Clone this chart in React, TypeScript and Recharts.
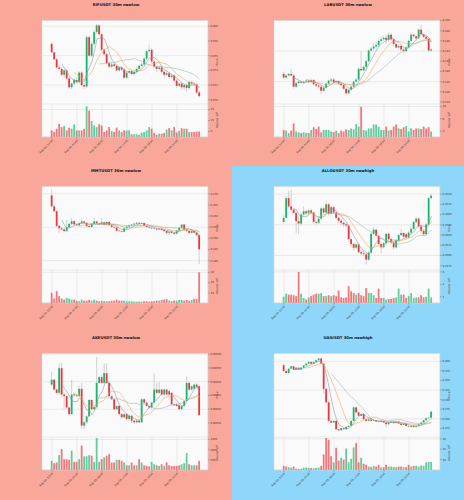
import { ComposedChart, Bar, Line, XAxis, YAxis, CartesianGrid } from 'recharts'

// [open, high, low, close]
type Candle = [number, number, number, number]

const TIME_LABELS = ['Aug 04, 22:00', 'Aug 05, 03:00', 'Aug 05, 08:00', 'Aug 05, 13:00', 'Aug 05, 18:00', 'Aug 05, 23:00']

const RIF_OHLC: Candle[] = [
  [0.0776, 0.0778, 0.0764, 0.07645], [0.07645, 0.0766, 0.0754, 0.0755], [0.0755, 0.0757, 0.0742, 0.0744], [0.0744, 0.0748, 0.074, 0.0742],
  [0.0742, 0.0745, 0.0732, 0.0734], [0.0734, 0.0742, 0.073, 0.074], [0.074, 0.0742, 0.0727, 0.0729], [0.0729, 0.0731, 0.0715, 0.0717],
  [0.0717, 0.0724, 0.0714, 0.0722], [0.0722, 0.0729, 0.072, 0.0727], [0.0727, 0.0731, 0.0722, 0.0724], [0.0724, 0.0739, 0.0722, 0.0737],
  [0.0737, 0.0739, 0.0718, 0.072], [0.072, 0.0723, 0.0715, 0.0718], [0.0718, 0.0787, 0.0716, 0.0785], [0.0785, 0.0787, 0.0758, 0.076],
  [0.076, 0.0778, 0.0758, 0.0776], [0.0776, 0.0795, 0.0774, 0.0792], [0.0792, 0.0803, 0.079, 0.0801], [0.0801, 0.0802, 0.0787, 0.0789],
  [0.0789, 0.0791, 0.0766, 0.0768], [0.0768, 0.077, 0.076, 0.0762], [0.0762, 0.0764, 0.0748, 0.075], [0.075, 0.0752, 0.0743, 0.0745],
  [0.0745, 0.0752, 0.0743, 0.0748], [0.0748, 0.075, 0.0744, 0.0746], [0.0746, 0.0748, 0.0738, 0.074], [0.074, 0.0746, 0.0738, 0.0744],
  [0.0744, 0.0746, 0.0739, 0.0741], [0.0741, 0.0743, 0.0728, 0.073], [0.073, 0.0739, 0.0728, 0.0737], [0.0737, 0.0741, 0.0735, 0.0739],
  [0.0739, 0.0741, 0.0733, 0.0735], [0.0735, 0.074, 0.0733, 0.0738], [0.0738, 0.0744, 0.0736, 0.0742], [0.0742, 0.0748, 0.074, 0.0746],
  [0.0746, 0.075, 0.0744, 0.0748], [0.0748, 0.0758, 0.0746, 0.0756], [0.0756, 0.0768, 0.0754, 0.0766], [0.0766, 0.0775, 0.0764, 0.0768],
  [0.0768, 0.077, 0.075, 0.0752], [0.0752, 0.0754, 0.0743, 0.0745], [0.0745, 0.0747, 0.0738, 0.0742], [0.0742, 0.0746, 0.074, 0.0744],
  [0.0744, 0.0746, 0.0736, 0.0738], [0.0738, 0.074, 0.073, 0.0734], [0.0734, 0.0738, 0.0732, 0.0736], [0.0736, 0.0738, 0.0729, 0.0731],
  [0.0731, 0.0735, 0.0729, 0.0733], [0.0733, 0.0735, 0.0724, 0.0726], [0.0726, 0.0728, 0.0716, 0.0719], [0.0719, 0.0724, 0.0717, 0.0722],
  [0.0722, 0.0724, 0.0714, 0.0717], [0.0717, 0.0722, 0.0713, 0.072], [0.072, 0.0722, 0.0711, 0.0716], [0.0716, 0.0726, 0.0714, 0.0724],
  [0.0724, 0.0726, 0.072, 0.0722], [0.0722, 0.0724, 0.0719, 0.0721], [0.0721, 0.0723, 0.0708, 0.071], [0.071, 0.0712, 0.0703, 0.0705],
]
const RIF_VOL = [
  6, 4.5, 7.5, 12, 9, 10, 6, 8.5, 7.5, 11.5, 6, 6, 6, 7.5, 28, 24, 14.5, 10.5, 9, 11.5,
  10.5, 4.5, 6, 9, 5.5, 4.5, 8.5, 6, 4.5, 6, 6, 6, 2.5, 2.5, 2.5, 2, 4, 4.5, 6, 9,
  7.5, 3.6, 2, 3, 3, 3.6, 6.7, 8, 6, 9, 4, 5.5, 8, 7.5, 7.5, 4.5, 4.5, 4.5, 5, 5,
]
const RIF_PRICE_TICKS = [0.07, 0.072, 0.074, 0.076, 0.078, 0.08]
const RIF_VOL_TICKS = [5, 10, 15, 20, 25]

const LAB_OHLC: Candle[] = [
  [0.1395, 0.1399, 0.1386, 0.1388], [0.1388, 0.1394, 0.1386, 0.1392], [0.1392, 0.1397, 0.139, 0.1395], [0.1395, 0.1405, 0.139, 0.1392],
  [0.1392, 0.1396, 0.1366, 0.137], [0.137, 0.138, 0.1368, 0.1377], [0.1377, 0.1382, 0.1375, 0.138], [0.138, 0.1382, 0.1376, 0.1378],
  [0.1378, 0.1382, 0.1376, 0.138], [0.138, 0.1385, 0.1378, 0.1382], [0.1382, 0.1385, 0.1377, 0.1379], [0.1379, 0.1386, 0.1377, 0.1383],
  [0.1383, 0.1385, 0.1373, 0.1375], [0.1375, 0.1377, 0.137, 0.1372], [0.1372, 0.1375, 0.1366, 0.137], [0.137, 0.1372, 0.1355, 0.1362],
  [0.1362, 0.137, 0.136, 0.1368], [0.1368, 0.1378, 0.1366, 0.1376], [0.1376, 0.1384, 0.1374, 0.1382], [0.1382, 0.1387, 0.138, 0.1384],
  [0.1384, 0.1386, 0.1377, 0.1379], [0.1379, 0.1383, 0.1377, 0.1381], [0.1381, 0.1383, 0.1374, 0.1376], [0.1376, 0.1378, 0.1371, 0.1373],
  [0.1373, 0.1375, 0.1364, 0.1366], [0.1366, 0.1368, 0.1355, 0.1357], [0.1357, 0.1366, 0.1355, 0.1364], [0.1364, 0.1372, 0.1362, 0.137],
  [0.137, 0.1382, 0.1368, 0.138], [0.138, 0.1387, 0.1378, 0.1384], [0.1384, 0.1408, 0.1382, 0.1405], [0.1405, 0.144, 0.14, 0.1402],
  [0.1402, 0.1412, 0.14, 0.1409], [0.1409, 0.1423, 0.1402, 0.142], [0.142, 0.1444, 0.1418, 0.1441], [0.1441, 0.1448, 0.1438, 0.1445],
  [0.1445, 0.1455, 0.144, 0.1449], [0.1449, 0.1458, 0.1445, 0.1452], [0.1452, 0.1463, 0.1448, 0.146], [0.146, 0.1468, 0.1456, 0.1463],
  [0.1463, 0.147, 0.146, 0.1466], [0.1466, 0.1472, 0.1455, 0.1462], [0.1462, 0.1476, 0.1458, 0.1472], [0.1472, 0.1475, 0.146, 0.1463],
  [0.1463, 0.1466, 0.145, 0.1454], [0.1454, 0.1457, 0.1445, 0.1447], [0.1447, 0.1453, 0.1443, 0.145], [0.145, 0.1452, 0.144, 0.1443],
  [0.1443, 0.1446, 0.1435, 0.144], [0.144, 0.145, 0.1438, 0.1447], [0.1447, 0.1462, 0.1445, 0.146], [0.146, 0.1475, 0.1458, 0.1472],
  [0.1472, 0.1475, 0.1466, 0.1469], [0.1469, 0.1471, 0.1462, 0.1465], [0.1465, 0.1484, 0.1463, 0.1482], [0.1482, 0.1492, 0.1471, 0.1473],
  [0.1473, 0.1476, 0.1466, 0.1468], [0.1468, 0.147, 0.1462, 0.1464], [0.1464, 0.1466, 0.1439, 0.1441], [0.1441, 0.1445, 0.1439, 0.1443],
]
const LAB_VOL = [
  2.3, 2.1, 1.3, 2.1, 4.4, 1.8, 1.5, 1.3, 1.5, 1.3, 1.3, 2.3, 3.2, 2.6, 3.4, 1.5, 2.3, 2.3, 2.3, 1.8,
  1.6, 2.1, 1.3, 2.1, 1.8, 2.5, 2.3, 2.8, 2.5, 4.2, 3.4, 9.9, 2.3, 2.1, 2.8, 2.8, 4.1, 4.1, 3.4, 2.3,
  2.3, 3.4, 2.1, 2.3, 3.4, 4.1, 2.8, 2.6, 3.2, 3.6, 1.8, 2.8, 2.3, 2.8, 2.8, 2.6, 3.4, 2.8, 3.2, 1.8,
]
const LAB_PRICE_TICKS = [0.134, 0.136, 0.138, 0.14, 0.142, 0.144, 0.146, 0.148, 0.15]
const LAB_VOL_TICKS = [2, 4, 6, 8, 10]

const MMT_OHLC: Candle[] = [
  [0.2693, 0.2718, 0.264, 0.2644], [0.2644, 0.2648, 0.2618, 0.2622], [0.2622, 0.2625, 0.255, 0.2556], [0.2556, 0.256, 0.2525, 0.2545],
  [0.2545, 0.2552, 0.2535, 0.254], [0.254, 0.2545, 0.2528, 0.2533], [0.2533, 0.2585, 0.253, 0.255], [0.255, 0.257, 0.2545, 0.2565],
  [0.2565, 0.2592, 0.256, 0.2577], [0.2577, 0.258, 0.256, 0.2563], [0.2563, 0.2566, 0.2555, 0.2559], [0.2559, 0.2572, 0.2556, 0.2568],
  [0.2568, 0.2592, 0.2565, 0.2576], [0.2576, 0.258, 0.2566, 0.257], [0.257, 0.2573, 0.2552, 0.2555], [0.2555, 0.2558, 0.2548, 0.2551],
  [0.2551, 0.2568, 0.2549, 0.2565], [0.2565, 0.2592, 0.2562, 0.2576], [0.2576, 0.2579, 0.2564, 0.2567], [0.2567, 0.257, 0.2559, 0.2562],
  [0.2562, 0.2592, 0.256, 0.2572], [0.2572, 0.2575, 0.2558, 0.2561], [0.2561, 0.2577, 0.2559, 0.2574], [0.2574, 0.2577, 0.2556, 0.2559],
  [0.2559, 0.2562, 0.2549, 0.2552], [0.2552, 0.2555, 0.2546, 0.2549], [0.2549, 0.2552, 0.2528, 0.2535], [0.2535, 0.254, 0.2528, 0.2533],
  [0.2533, 0.2536, 0.2525, 0.253], [0.253, 0.2548, 0.2527, 0.2545], [0.2545, 0.2557, 0.2542, 0.2553], [0.2553, 0.2562, 0.255, 0.2558],
  [0.2558, 0.2566, 0.2555, 0.2562], [0.2562, 0.257, 0.2559, 0.2566], [0.2566, 0.2574, 0.2563, 0.257], [0.257, 0.2573, 0.2562, 0.2566],
  [0.2566, 0.2572, 0.2563, 0.2569], [0.2569, 0.2572, 0.2553, 0.2556], [0.2556, 0.2559, 0.2548, 0.2551], [0.2551, 0.2554, 0.2545, 0.2548],
  [0.2548, 0.2551, 0.2542, 0.2545], [0.2545, 0.2548, 0.254, 0.2543], [0.2543, 0.2546, 0.2537, 0.254], [0.254, 0.2546, 0.2537, 0.2543],
  [0.2543, 0.2546, 0.2534, 0.2538], [0.2538, 0.2541, 0.253, 0.2533], [0.2533, 0.2536, 0.2518, 0.2525], [0.2525, 0.2534, 0.2515, 0.253],
  [0.253, 0.2533, 0.252, 0.2525], [0.2525, 0.2528, 0.2517, 0.2521], [0.2521, 0.2538, 0.2518, 0.2535], [0.2535, 0.2551, 0.2532, 0.2548],
  [0.2548, 0.2565, 0.2545, 0.2562], [0.2562, 0.2565, 0.2537, 0.254], [0.254, 0.2543, 0.253, 0.2533], [0.2533, 0.2536, 0.2522, 0.2525],
  [0.2525, 0.2536, 0.2522, 0.2533], [0.2533, 0.2536, 0.2522, 0.2526], [0.2526, 0.2529, 0.251, 0.2515], [0.2515, 0.2518, 0.2385, 0.2451],
]
const MMT_VOL = [
  10, 4.3, 11.7, 6.7, 4.3, 3.3, 5, 4.3, 3.3, 3.3, 2.3, 1.7, 3.3, 2.3, 2.3, 3, 2.3, 3.3, 2.3, 1.7,
  2.3, 1.7, 1.7, 1.7, 2.3, 2.3, 3.3, 2.3, 2.3, 2.3, 1.7, 1.7, 1.7, 1.3, 1.3, 1.3, 1.3, 1.7, 1.7, 1.3,
  1.7, 1.7, 2.3, 2.3, 3, 3.3, 4, 2.3, 1.7, 2.3, 2.3, 3, 3, 2.3, 3, 2.3, 3, 4, 4, 30,
]
const MMT_PRICE_TICKS = [0.24, 0.245, 0.25, 0.255, 0.26, 0.265, 0.27]
const MMT_VOL_TICKS = [10, 20, 30]

const ALLO_OHLC: Candle[] = [
  [0.2582, 0.26, 0.2578, 0.2592], [0.2592, 0.2645, 0.259, 0.264], [0.264, 0.2658, 0.2617, 0.262], [0.262, 0.266, 0.2608, 0.2612],
  [0.2612, 0.2616, 0.26, 0.2604], [0.2604, 0.2608, 0.2555, 0.2584], [0.2584, 0.2596, 0.2552, 0.2578], [0.2578, 0.2604, 0.2575, 0.26],
  [0.26, 0.262, 0.2596, 0.2608], [0.2608, 0.2612, 0.2598, 0.2603], [0.2603, 0.2614, 0.26, 0.261], [0.261, 0.2614, 0.2601, 0.2605],
  [0.2605, 0.2608, 0.2578, 0.2582], [0.2582, 0.2586, 0.2576, 0.258], [0.258, 0.2594, 0.2577, 0.259], [0.259, 0.2618, 0.2587, 0.2615],
  [0.2615, 0.2618, 0.2602, 0.2605], [0.2605, 0.2633, 0.2603, 0.2625], [0.2625, 0.2628, 0.2598, 0.2602], [0.2602, 0.2622, 0.26, 0.2618],
  [0.2618, 0.2621, 0.2601, 0.2605], [0.2605, 0.2608, 0.2588, 0.2592], [0.2592, 0.2595, 0.258, 0.2585], [0.2585, 0.2588, 0.2576, 0.258],
  [0.258, 0.2583, 0.257, 0.2576], [0.2576, 0.258, 0.2568, 0.2573], [0.2573, 0.2576, 0.2535, 0.254], [0.254, 0.2543, 0.252, 0.2528],
  [0.2528, 0.2531, 0.2512, 0.2519], [0.2519, 0.253, 0.2515, 0.2527], [0.2527, 0.253, 0.2505, 0.2508], [0.2508, 0.2515, 0.25, 0.2505],
  [0.2505, 0.2512, 0.2498, 0.2503], [0.2503, 0.2508, 0.2478, 0.249], [0.249, 0.251, 0.2487, 0.2507], [0.2507, 0.2556, 0.2504, 0.2553],
  [0.2553, 0.257, 0.255, 0.2563], [0.2563, 0.2566, 0.2544, 0.2548], [0.2548, 0.2551, 0.2524, 0.2528], [0.2528, 0.2531, 0.2505, 0.252],
  [0.252, 0.2533, 0.2517, 0.253], [0.253, 0.2556, 0.2527, 0.2553], [0.2553, 0.2556, 0.2536, 0.254], [0.254, 0.2543, 0.2528, 0.2532],
  [0.2532, 0.2535, 0.2515, 0.252], [0.252, 0.254, 0.2517, 0.2537], [0.2537, 0.2553, 0.2534, 0.255], [0.255, 0.2565, 0.2547, 0.2555],
  [0.2555, 0.2558, 0.2543, 0.2546], [0.2552, 0.2555, 0.254, 0.2544], [0.2544, 0.256, 0.2541, 0.2556], [0.2556, 0.2572, 0.2553, 0.2565],
  [0.2565, 0.2585, 0.2562, 0.2582], [0.2582, 0.2594, 0.2579, 0.259], [0.259, 0.2593, 0.2568, 0.2571], [0.2571, 0.2574, 0.2556, 0.256],
  [0.256, 0.2563, 0.2548, 0.2552], [0.2552, 0.258, 0.2549, 0.2576], [0.2576, 0.2643, 0.2573, 0.264], [0.264, 0.265, 0.2637, 0.2646],
]
const ALLO_VOL = [
  1.0, 1.5, 1.35, 1.35, 1.25, 1.1, 5.0, 1.5, 0.8, 0.55, 0.9, 1.1, 1.35, 1.5, 1.5, 1.6, 1.1, 1.1, 1.25, 1.1,
  1.25, 1.1, 2.0, 0.9, 0.8, 0.9, 2.7, 1.9, 1.6, 1.35, 1.6, 1.25, 1.1, 2.4, 1.6, 1.6, 1.25, 0.8, 2.3, 0.8,
  0.8, 0.55, 0.65, 0.65, 0.8, 0.9, 2.3, 1.35, 1.35, 0.8, 1.1, 1.6, 0.8, 0.9, 0.9, 1.25, 0.9, 1.0, 2.3, 0.9,
]
const ALLO_PRICE_TICKS = [0.2475, 0.25, 0.2525, 0.255, 0.2575, 0.26, 0.2625, 0.265]
const ALLO_VOL_TICKS = [1, 2, 3, 4, 5]

const AKE_OHLC: Candle[] = [
  [0.0005379, 0.0005474, 0.000537, 0.0005414], [0.0005414, 0.000542, 0.0005335, 0.0005343], [0.0005343, 0.000535, 0.000531, 0.0005319],
  [0.0005319, 0.0005533, 0.00053, 0.0005498], [0.0005498, 0.000554, 0.000529, 0.0005307], [0.0005307, 0.000532, 0.00052, 0.0005295],
  [0.0005295, 0.00053, 0.0005205, 0.0005212], [0.0005212, 0.000522, 0.0005155, 0.0005164], [0.0005164, 0.0005414, 0.000516, 0.0005307],
  [0.0005307, 0.000532, 0.000529, 0.00053], [0.00053, 0.000531, 0.0005285, 0.0005295], [0.0005295, 0.000537, 0.000529, 0.0005348],
  [0.0005348, 0.0005391, 0.0005057, 0.0005081], [0.0005081, 0.0005115, 0.0005057, 0.0005105], [0.0005105, 0.0005155, 0.0005095, 0.0005148],
  [0.0005148, 0.0005275, 0.000514, 0.0005267], [0.0005267, 0.0005272, 0.000519, 0.00052], [0.00052, 0.0005225, 0.0005195, 0.0005215],
  [0.0005215, 0.0005581, 0.0005205, 0.0005391], [0.0005391, 0.000544, 0.0005385, 0.0005433], [0.0005433, 0.000545, 0.0005385, 0.0005391],
  [0.0005391, 0.0005533, 0.0005385, 0.0005462], [0.0005462, 0.0005533, 0.0005385, 0.0005391], [0.0005391, 0.00054, 0.0005288, 0.0005295],
  [0.0005295, 0.00053, 0.0005265, 0.0005272], [0.0005272, 0.0005278, 0.0005195, 0.00052], [0.00052, 0.0005229, 0.0005195, 0.0005224],
  [0.0005224, 0.000523, 0.0005157, 0.0005164], [0.0005164, 0.000517, 0.0005135, 0.0005141], [0.0005141, 0.000517, 0.0005135, 0.0005164],
  [0.0005164, 0.000517, 0.000512, 0.0005129], [0.0005129, 0.000516, 0.0005117, 0.0005153], [0.0005153, 0.0005158, 0.00051, 0.0005117],
  [0.0005117, 0.0005122, 0.0005095, 0.0005105], [0.0005105, 0.0005122, 0.0005098, 0.0005117], [0.0005117, 0.0005122, 0.0005098, 0.0005105],
  [0.0005105, 0.0005278, 0.00051, 0.0005272], [0.0005272, 0.000528, 0.000524, 0.0005248], [0.0005248, 0.0005255, 0.0005218, 0.0005224],
  [0.0005224, 0.000523, 0.0005205, 0.0005212], [0.0005212, 0.0005255, 0.0005205, 0.0005248], [0.0005248, 0.000546, 0.000524, 0.0005343],
  [0.0005343, 0.000539, 0.0005312, 0.0005319], [0.0005319, 0.00054, 0.000531, 0.0005343], [0.0005343, 0.000535, 0.00053, 0.0005307],
  [0.0005307, 0.000535, 0.00053, 0.0005343], [0.0005343, 0.000535, 0.00053, 0.0005307], [0.0005331, 0.000534, 0.00053, 0.0005307],
  [0.0005319, 0.0005325, 0.000523, 0.0005236], [0.0005236, 0.000524, 0.0005222, 0.0005229], [0.0005236, 0.0005242, 0.0005218, 0.0005224],
  [0.0005229, 0.0005236, 0.0005195, 0.00052], [0.00052, 0.000523, 0.0005195, 0.0005224], [0.0005224, 0.0005266, 0.0005218, 0.000526],
  [0.000526, 0.0005438, 0.0005255, 0.0005391], [0.0005391, 0.00054, 0.0005335, 0.0005343], [0.0005343, 0.0005372, 0.0005338, 0.0005367],
  [0.000535, 0.0005385, 0.0005345, 0.0005379], [0.0005379, 0.000539, 0.000535, 0.000536], [0.0005367, 0.0005372, 0.000515, 0.0005157],
]
const AKE_VOL = [
  450, 330, 370, 730, 1030, 530, 530, 500, 950, 400, 400, 530, 1200, 670, 670, 730, 700, 400, 1570, 400,
  530, 620, 700, 780, 370, 370, 500, 500, 450, 370, 230, 230, 370, 230, 230, 530, 370, 230, 200, 170,
  400, 280, 230, 200, 280, 200, 370, 230, 200, 200, 200, 230, 280, 330, 830, 280, 230, 230, 230, 450,
]
const AKE_PRICE_TICKS = [0.00051, 0.00052, 0.00053, 0.00054, 0.00055, 0.00056]
const AKE_VOL_TICKS = [500, 1000, 1500]

const UAI_OHLC: Candle[] = [
  [0.3895, 0.3939, 0.373, 0.3746], [0.3746, 0.376, 0.368, 0.3693], [0.3693, 0.3815, 0.3685, 0.3807], [0.3807, 0.388, 0.38, 0.3868],
  [0.3868, 0.3875, 0.377, 0.3781], [0.3781, 0.384, 0.3775, 0.3833], [0.3833, 0.384, 0.377, 0.3781], [0.3781, 0.384, 0.3775, 0.3833],
  [0.3833, 0.39, 0.3825, 0.3895], [0.3895, 0.3945, 0.3885, 0.3939], [0.3939, 0.399, 0.393, 0.3982], [0.3982, 0.399, 0.393, 0.3939],
  [0.3939, 0.399, 0.3935, 0.3982], [0.3982, 0.4035, 0.3975, 0.4026], [0.4026, 0.408, 0.402, 0.407], [0.407, 0.4096, 0.393, 0.3939],
  [0.3939, 0.3945, 0.3149, 0.3281], [0.3281, 0.33, 0.29, 0.293], [0.293, 0.295, 0.242, 0.2447], [0.2447, 0.246, 0.239, 0.2404],
  [0.2404, 0.246, 0.2395, 0.2447], [0.2447, 0.2455, 0.221, 0.2228], [0.2228, 0.2255, 0.219, 0.2202], [0.2202, 0.2262, 0.2195, 0.2255],
  [0.2255, 0.2262, 0.222, 0.2228], [0.2228, 0.2298, 0.222, 0.229], [0.229, 0.2325, 0.228, 0.2316], [0.2316, 0.2455, 0.231, 0.2447],
  [0.2447, 0.281, 0.244, 0.2798], [0.2798, 0.281, 0.265, 0.2667], [0.2667, 0.269, 0.257, 0.2579], [0.2579, 0.264, 0.257, 0.2623],
  [0.2623, 0.263, 0.248, 0.2492], [0.2492, 0.25, 0.244, 0.2447], [0.2447, 0.2492, 0.244, 0.2482], [0.2482, 0.249, 0.244, 0.2447],
  [0.2447, 0.247, 0.244, 0.2465], [0.2465, 0.247, 0.242, 0.243], [0.243, 0.244, 0.241, 0.242], [0.242, 0.2452, 0.2415, 0.2447],
  [0.2447, 0.2455, 0.2395, 0.2404], [0.2404, 0.241, 0.2272, 0.236], [0.236, 0.241, 0.235, 0.2404], [0.2404, 0.244, 0.2398, 0.243],
  [0.243, 0.2436, 0.2385, 0.239], [0.239, 0.2436, 0.2385, 0.243], [0.243, 0.2436, 0.237, 0.2377], [0.2377, 0.2385, 0.2335, 0.2342],
  [0.2342, 0.2385, 0.2335, 0.2377], [0.2377, 0.2385, 0.2305, 0.2316], [0.2316, 0.2325, 0.229, 0.23], [0.229, 0.232, 0.2285, 0.2316],
  [0.2316, 0.232, 0.228, 0.229], [0.229, 0.232, 0.2285, 0.2316], [0.2316, 0.2365, 0.231, 0.236], [0.236, 0.241, 0.2355, 0.2404],
  [0.2404, 0.2475, 0.2395, 0.2465], [0.2465, 0.253, 0.2455, 0.2518], [0.2518, 0.254, 0.2505, 0.253], [0.253, 0.272, 0.252, 0.2685],
]
const UAI_VOL = [
  4, 3.3, 2.7, 2.3, 3.3, 1.3, 1.0, 1.3, 2.3, 2.3, 2.0, 2.0, 1.7, 2.0, 2.3, 4, 15, 30.7, 29, 13.3,
  7.3, 21.3, 9, 11.7, 10, 20.7, 7.3, 10.7, 21.7, 26, 7.3, 11.7, 6, 5, 3.3, 2.7, 4, 3.3, 5, 2.3,
  2.7, 5, 3.3, 3.3, 2.7, 2.7, 3.3, 3.3, 2.7, 2.7, 5, 3.3, 4, 4, 3.3, 4.3, 4, 7.3, 7.7, 7.7,
]
const UAI_PRICE_TICKS = [0.225, 0.25, 0.275, 0.3, 0.325, 0.35, 0.375, 0.4]
const UAI_VOL_TICKS = [10, 20, 30]

const PINK = '#f9a79a'
const BLUE = '#8fd6fb'
const FACE = '#fafafa'
const GRID = '#d9d9d9'
const UP = '#1ab56c'
const DOWN = '#ef363c'
const WICK = '#9c9c9c'
const MA_COLORS = ['#8a98aa', '#f4a85c', '#9bbab6']
const FONT = 'DejaVu Sans, sans-serif'

type PanelDef = {
  title: string
  bg: string
  left: number
  top: number
  ohlc: Candle[]
  vol: number[]
  priceTicks: number[]
  priceDomain: [number, number]
  digits: number
  volTicks: number[]
  volDomain: [number, number]
}

const PANELS: PanelDef[] = [
  { title: 'RIFUSDT 30m newlow', bg: PINK, left: 0, top: 0, ohlc: RIF_OHLC, vol: RIF_VOL, priceTicks: RIF_PRICE_TICKS, priceDomain: [0.06943, 0.08077], digits: 3, volTicks: RIF_VOL_TICKS, volDomain: [0, 30] },
  { title: 'LABUSDT 30m newlow', bg: PINK, left: 232, top: 0, ohlc: LAB_OHLC, vol: LAB_VOL, priceTicks: LAB_PRICE_TICKS, priceDomain: [0.1336, 0.15], digits: 3, volTicks: LAB_VOL_TICKS, volDomain: [0, 10.8] },
  { title: 'MMTUSDT 30m newlow', bg: PINK, left: 0, top: 166, ohlc: MMT_OHLC, vol: MMT_VOL, priceTicks: MMT_PRICE_TICKS, priceDomain: [0.2358, 0.2733], digits: 3, volTicks: MMT_VOL_TICKS, volDomain: [0, 32.3] },
  { title: 'ALLOUSDT 30m newhigh', bg: BLUE, left: 232, top: 166, ohlc: ALLO_OHLC, vol: ALLO_VOL, priceTicks: ALLO_PRICE_TICKS, priceDomain: [0.24646, 0.26685], digits: 4, volTicks: ALLO_VOL_TICKS, volDomain: [0, 5.3] },
  { title: 'AKEUSDT 30m newlow', bg: PINK, left: 0, top: 333, ohlc: AKE_OHLC, vol: AKE_VOL, priceTicks: AKE_PRICE_TICKS, priceDomain: [0.0004998, 0.0005605], digits: 5, volTicks: AKE_VOL_TICKS, volDomain: [0, 1617] },
  { title: 'UAIUSDT 30m newhigh', bg: BLUE, left: 232, top: 333, ohlc: UAI_OHLC, vol: UAI_VOL, priceTicks: UAI_PRICE_TICKS, priceDomain: [0.2027, 0.4202], digits: 3, volTicks: UAI_VOL_TICKS, volDomain: [0, 31.7] },
]

function sma(values: number[], n: number): (number | null)[] {
  return values.map((_, i) => {
    if (i < n - 1) return null
    let s = 0
    for (let k = i - n + 1; k <= i; k++) s += values[k]
    return s / n
  })
}

const CandleShape = (props: any) => {
  const { x, y, width, height, payload } = props
  if (x == null || y == null) return null
  const top0 = Math.min(y, y + height)
  const h = Math.abs(height)
  const span = payload.high - payload.low || 1
  const py = (v: number) => top0 + ((payload.high - v) / span) * h
  const bTop = py(Math.max(payload.open, payload.close))
  const bBot = py(Math.min(payload.open, payload.close))
  const cx = x + width / 2
  return (
    <g>
      <line x1={cx} x2={cx} y1={top0} y2={top0 + h} stroke={WICK} strokeWidth={0.45} />
      <rect x={x} y={bTop} width={width} height={Math.max(bBot - bTop, 0.4)} fill={payload.up ? UP : DOWN} />
    </g>
  )
}

const VolShape = (props: any) => {
  const { x, y, width, height, payload } = props
  if (x == null || y == null) return null
  return <rect x={x} y={Math.min(y, y + height)} width={width} height={Math.abs(height)} fill={payload.up ? UP : DOWN} fillOpacity={0.68} />
}

const tickStyle = { fontSize: 2.6, fill: '#333', fontFamily: FONT }
const XPAD = { left: 8.75, right: 7.25 }

function Panel({ p }: { p: PanelDef }) {
  const closes = p.ohlc.map((c) => c[3])
  const ma5 = sma(closes, 5)
  const ma10 = sma(closes, 10)
  const ma20 = sma(closes, 20)
  const data = p.ohlc.map(([o, h, l, c], i) => ({
    i,
    open: o,
    high: h,
    low: l,
    close: c,
    range: [l, h],
    up: c >= o,
    vol: p.vol[i],
    ma5: ma5[i],
    ma10: ma10[i],
    ma20: ma20[i],
  }))
  const fmtPrice = (v: number) => v.toFixed(p.digits)
  const fmtTime = (v: number) => TIME_LABELS[v / 10] ?? ''

  return (
    <div style={{ position: 'absolute', left: p.left, top: p.top, width: 232, height: 167, background: p.bg }}>
      <div style={{ position: 'absolute', top: 1.6, left: 0, width: 232, textAlign: 'center', fontFamily: FONT, fontSize: 3.8, fontWeight: 'bold', color: '#111' }}>
        {p.title}
      </div>
      <div style={{ position: 'absolute', left: 0, top: 0 }}>
        <ComposedChart width={232} height={104} data={data} margin={{ top: 20.5, right: 0, bottom: 0, left: 42 }}>
          <CartesianGrid stroke={GRID} strokeWidth={0.5} fill={FACE} />
          <XAxis dataKey="i" interval={9} padding={XPAD} height={0} tick={false} tickLine={false} axisLine={false} />
          <YAxis
            orientation="right"
            width={24}
            domain={p.priceDomain}
            ticks={p.priceTicks}
            allowDataOverflow
            tickFormatter={fmtPrice}
            tick={tickStyle}
            tickSize={1.5}
            tickMargin={1}
            tickLine={{ stroke: '#555', strokeWidth: 0.4 }}
            axisLine={{ stroke: '#c8c8c8', strokeWidth: 0.5 }}
          />
          <Bar dataKey="range" barSize={1.8} shape={CandleShape} isAnimationActive={false} />
          <Line dataKey="ma20" stroke={MA_COLORS[2]} strokeWidth={0.6} dot={false} isAnimationActive={false} />
          <Line dataKey="ma10" stroke={MA_COLORS[1]} strokeWidth={0.6} dot={false} isAnimationActive={false} />
          <Line dataKey="ma5" stroke={MA_COLORS[0]} strokeWidth={0.6} dot={false} isAnimationActive={false} />
        </ComposedChart>
      </div>
      <div style={{ position: 'absolute', left: 0, top: 104 }}>
        <ComposedChart width={232} height={62} data={data} margin={{ top: 0, right: 0, bottom: 0, left: 42 }}>
          <CartesianGrid stroke={GRID} strokeWidth={0.5} fill={FACE} />
          <XAxis
            dataKey="i"
            interval={9}
            padding={XPAD}
            height={29}
            tickFormatter={fmtTime}
            tick={{ ...tickStyle, angle: -45, textAnchor: 'end' }}
            tickSize={1.5}
            tickMargin={0.8}
            tickLine={{ stroke: '#555', strokeWidth: 0.4 }}
            axisLine={{ stroke: '#c8c8c8', strokeWidth: 0.5 }}
          />
          <YAxis
            orientation="right"
            width={24}
            domain={p.volDomain}
            ticks={p.volTicks}
            allowDataOverflow
            tick={tickStyle}
            tickSize={1.5}
            tickMargin={1}
            tickLine={{ stroke: '#555', strokeWidth: 0.4 }}
            axisLine={{ stroke: '#c8c8c8', strokeWidth: 0.5 }}
          />
          <Bar dataKey="vol" barSize={1.8} shape={VolShape} isAnimationActive={false} />
        </ComposedChart>
      </div>
      <div style={{ position: 'absolute', left: 217, top: 62, transform: 'translate(-50%, -50%) rotate(-90deg)', fontFamily: FONT, fontSize: 2.8, color: '#333', whiteSpace: 'nowrap' }}>
        Price
      </div>
      <div style={{ position: 'absolute', left: 217, top: 120, transform: 'translate(-50%, -50%) rotate(-90deg)', fontFamily: FONT, fontSize: 2.8, color: '#333', whiteSpace: 'nowrap' }}>
        Volume  10<sup style={{ fontSize: 2 }}>6</sup>
      </div>
    </div>
  )
}

export default function App() {
  return (
    <div style={{ position: 'absolute', left: 0, top: 0, width: 464, height: 500, background: PINK, overflow: 'hidden' }}>
      {PANELS.map((p) => (
        <Panel key={p.title} p={p} />
      ))}
    </div>
  )
}
